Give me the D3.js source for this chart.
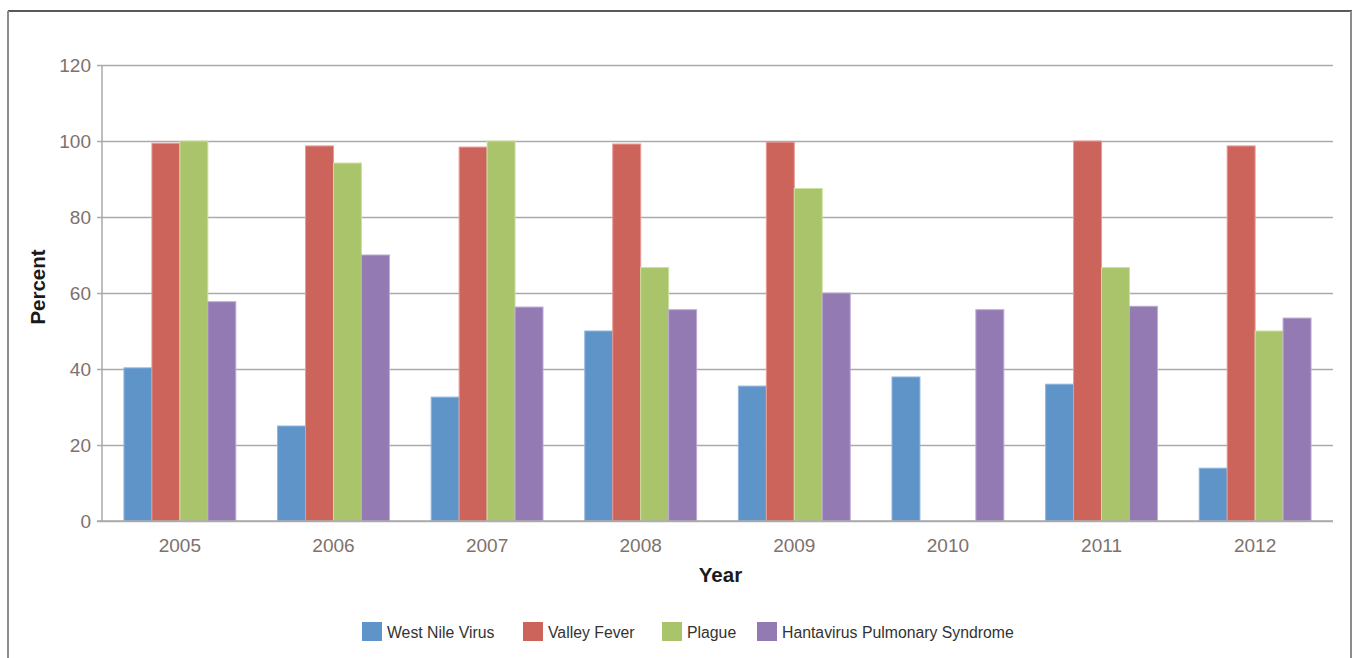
<!DOCTYPE html>
<html>
<head>
<meta charset="utf-8">
<script src="https://cdn.jsdelivr.net/npm/d3@7"></script>
<style>
  body { margin: 0; background: #fff; }
  svg { font-family: "Liberation Sans", Arial, sans-serif; }
  .axis text { fill: #7d726c; font-size: 19px; }
  .axis line { stroke: #aaa; stroke-width: 1.5; }
  .axis-title { font-weight: bold; font-size: 20.5px; fill: #1a1a1a; }
  .legend text { font-size: 15.8px; fill: #333; }
</style>
</head>
<body>
<svg id="chart"></svg>
<script>
// Chart data
const years = ['2005', '2006', '2007', '2008', '2009', '2010', '2011', '2012'];
const seriesNames = ['West Nile Virus', 'Valley Fever', 'Plague', 'Hantavirus Pulmonary Syndrome'];
const westNile = [40.3, 25, 32.6, 50, 35.5, 37.9, 36, 13.9];
const valleyFever = [99.4, 98.7, 98.4, 99.2, 99.7, null, 100, 98.7];
const plague = [100, 94.2, 100, 66.7, 87.5, null, 66.7, 50];
const hantavirus = [57.7, 70, 56.3, 55.6, 60, 55.6, 56.5, 53.4];
const yTicks = [0, 20, 40, 60, 80, 100, 120];

const seriesValues = [westNile, valleyFever, plague, hantavirus];
const colors = ['#5f94c8', '#cd645c', '#a9c46a', '#937ab3'];
const strokes = ['#8fb5dd', '#e79a94', '#cde0a0', '#bba9d3'];

const config = {
  width: 1353,
  height: 658,
  margin: {top: 65, right: 20, bottom: 137, left: 102}
};

const svg = d3.select('#chart')
    .attr('width', config.width)
    .attr('height', config.height);

// outer frame
svg.append('line').attr('x1', 8).attr('x2', 1352).attr('y1', 11).attr('y2', 11)
    .attr('stroke', '#222').attr('stroke-width', 1.5);
svg.append('line').attr('x1', 8).attr('x2', 8).attr('y1', 11).attr('y2', 658)
    .attr('stroke', '#8c8c8c').attr('stroke-width', 2);
svg.append('line').attr('x1', 1351).attr('x2', 1351).attr('y1', 11).attr('y2', 658)
    .attr('stroke', '#8c8c8c').attr('stroke-width', 2);

const width = 1333 - config.margin.left;
const height = 521 - config.margin.top;

const chart = svg.append('g')
    .attr('transform', `translate(${config.margin.left},${config.margin.top})`);

const xScale = d3.scaleBand().domain(years).range([0, width]).paddingInner(0.272).paddingOuter(0.143);
const xSub = d3.scaleBand().domain(d3.range(seriesNames.length)).range([0, xScale.bandwidth()]);
const yScale = d3.scaleLinear().domain([0, 120]).range([height, 0]);

// y axis + gridlines
const yAxis = d3.axisLeft(yScale)
    .tickValues(yTicks)
    .tickSize(-width)
    .tickPadding(10);

const yAxisG = chart.append('g')
    .attr('class', 'axis y-axis')
    .call(yAxis)
    .call(g => g.select('.domain').remove());

yAxisG.selectAll('.tick line').attr('x1', -5);
yAxisG.selectAll('.tick text').attr('x', -11);

chart.append('line')
    .attr('x1', 0).attr('x2', 0).attr('y1', 0).attr('y2', height)
    .attr('stroke', '#aaa').attr('stroke-width', 1.5);

// bars
seriesValues.forEach((vals, si) => {
  chart.selectAll(`.bar-${si}`)
      .data(years.map((y, i) => ({year: y, value: vals[i]})).filter(d => d.value != null))
    .join('rect')
      .attr('class', `bar-${si}`)
      .attr('x', d => xScale(d.year) + xSub(si))
      .attr('width', xSub.bandwidth())
      .attr('y', d => yScale(d.value))
      .attr('height', d => height - yScale(d.value))
      .attr('fill', colors[si])
      .attr('stroke', strokes[si])
      .attr('stroke-width', 1);
});

// redraw baseline on top of bars
chart.append('line')
    .attr('x1', -5).attr('x2', width).attr('y1', height).attr('y2', height)
    .attr('stroke', '#aaa').attr('stroke-width', 1.5);

// x axis labels
const xAxis = d3.axisBottom(xScale).tickSize(0).tickPadding(18);
chart.append('g')
    .attr('class', 'axis x-axis')
    .attr('transform', `translate(0,${height})`)
    .call(xAxis)
    .call(g => g.select('.domain').remove());

// axis titles
chart.append('text')
    .attr('class', 'axis-title')
    .attr('x', width / 2 + 3)
    .attr('y', height + 61)
    .attr('text-anchor', 'middle')
    .text('Year');

svg.append('text')
    .attr('class', 'axis-title')
    .attr('transform', `translate(45,287) rotate(-90)`)
    .attr('text-anchor', 'middle')
    .text('Percent');

// legend
const legendX = [362, 523, 662, 757];
const legend = svg.append('g').attr('class', 'legend');
seriesNames.forEach((name, i) => {
  const g = legend.append('g').attr('transform', `translate(${legendX[i]},622)`);
  g.append('rect').attr('width', 20).attr('height', 19).attr('fill', colors[i]);
  g.append('text').attr('x', 25).attr('y', 15.5).text(name);
});
</script>
</body>
</html>
